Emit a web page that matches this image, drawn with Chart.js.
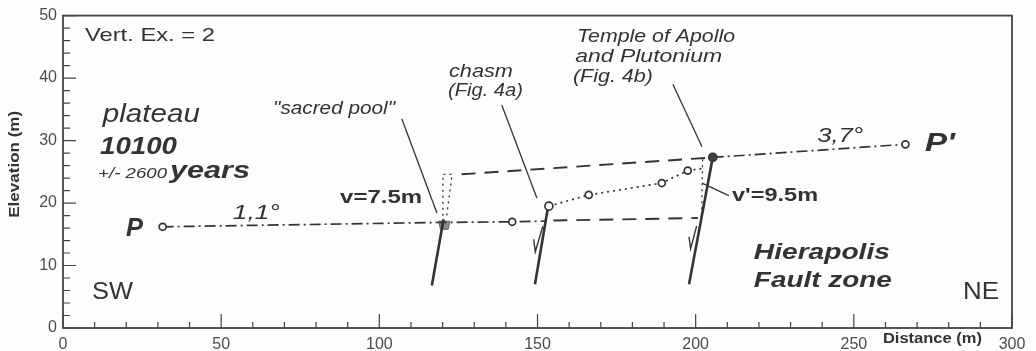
<!DOCTYPE html>
<html>
<head>
<meta charset="utf-8">
<script src="https://cdn.jsdelivr.net/npm/chart.js@4/dist/chart.umd.min.js"></script>
<style>
  html, body { margin: 0; padding: 0; background: #fdfdfd; }
  #wrap { width: 1036px; height: 351px; }
</style>
</head>
<body>
<div id="wrap"><canvas id="myChart" width="1036" height="351"></canvas></div>
<script>
// axis tick labels
const xTicks = [0, 50, 100, 150, 200, 250, 300];
const yTicks = [0, 10, 20, 30, 40, 50];

// plateau surface P -> sacred pool -> chasm (dash-dot, 1,1°)
const lowerX = [31.5, 120, 142, 153];
const lowerY = [16.2, 16.9, 17.0, 17.1];
// projected lower surface (dashed)
const lowerProjX = [155, 200.7];
const lowerProjY = [17.2, 17.6];
// projected upper surface (dashed)
const upperProjX = [126, 205.4];
const upperProjY = [24.6, 27.3];
// surface Temple -> P' (dash-dot, 3,7°)
const upperX = [205.4, 266.3];
const upperY = [27.3, 29.4];
// steps between chasm and temple (dotted)
const stepX = [153.6, 166.2, 189.3, 197.5, 203];
const stepY = [19.5, 21.3, 23.2, 25.2, 25.6];
// offset v at the sacred pool (dotted)
const offsetVX = [120.1, 120.1, 123, 121.3];
const offsetVY = [17.0, 24.6, 24.6, 18.0];
// offset v' at the temple (dotted)
const offsetV2X = [202.2, 201.9];
const offsetV2Y = [27.0, 17.8];
// faults
const fault1X = [116.6, 120.3], fault1Y = [6.8, 17.4];
const fault2X = [149.2, 153.3], fault2Y = [7.0, 19.3];
const fault3X = [197.9, 205.4], fault3Y = [7.0, 27.3];
// slip arrows
const slip2X = [151.7, 149.3, 148.8], slip2Y = [16.3, 12.2, 14.2];
const slip3X = [200.3, 198.4, 197.9], slip3Y = [16.3, 12.7, 14.6];
// sacred pool basin
const poolX = [118.8, 122.3, 121.8, 119.3, 118.8];
const poolY = [17.1, 17.1, 15.8, 15.8, 17.1];
// leader lines
const leadPoolX = [107.1, 118.2], leadPoolY = [33.5, 18.4];
const leadChasmX = [138.7, 149.8], leadChasmY = [35.7, 20.8];
const leadTempleX = [192.8, 202], leadTempleY = [39.0, 29.0];
const leadV2X = [202, 210.5], leadV2Y = [23.2, 21.2];

const ink = '#333';
const F = '"Liberation Sans", Arial, sans-serif';

// text annotations (x,y = left baseline in data units, w = target width px)
const labels = [
  { t: 'Vert. Ex. = 2', x: 6.95, y: 46.0, f: '19px', w: 130 },
  { t: 'plateau', x: 12.6, y: 33.0, f: 'italic 25px', w: 97 },
  { t: '10100', x: 11.7, y: 27.8, f: 'bold italic 24px', w: 77 },
  { t: '+/- 2600', x: 11.1, y: 24.0, f: 'italic 14px', w: 69 },
  { t: 'years', x: 33.8, y: 24.0, f: 'bold italic 24px', w: 80 },
  { t: 'P', x: 19.9, y: 14.8, f: 'bold italic 25px', w: 17 },
  { t: '1,1°', x: 53.7, y: 17.5, f: 'italic 20px', w: 47 },
  { t: 'SW', x: 9.2, y: 4.6, f: '23px', w: 41 },
  { t: '"sacred pool"', x: 66.4, y: 34.3, f: 'italic 18px', w: 122 },
  { t: 'v=7.5m', x: 87.6, y: 20.0, f: 'bold 19px', w: 82 },
  { t: 'chasm', x: 122.0, y: 40.2, f: 'italic 18px', w: 64 },
  { t: '(Fig. 4a)', x: 121.7, y: 37.1, f: 'italic 18px', w: 75 },
  { t: 'Temple of Apollo', x: 162.5, y: 45.7, f: 'italic 18px', w: 158 },
  { t: 'and Plutonium', x: 161.9, y: 42.5, f: 'italic 18px', w: 147 },
  { t: '(Fig. 4b)', x: 161.2, y: 39.4, f: 'italic 18px', w: 80 },
  { t: '3,7°', x: 238.4, y: 29.8, f: 'italic 20px', w: 46 },
  { t: "P'", x: 272.5, y: 28.3, f: 'bold italic 25px', w: 30 },
  { t: "v'=9.5m", x: 211.5, y: 20.3, f: 'bold 19px', w: 86 },
  { t: 'Hierapolis', x: 218.4, y: 11.1, f: 'bold italic 22px', w: 136 },
  { t: 'Fault zone', x: 218.4, y: 6.5, f: 'bold italic 22px', w: 138 },
  { t: 'NE', x: 284.5, y: 4.6, f: '23px', w: 36 },
  { t: 'Distance (m)', x: 259.2, y: -2.4, f: 'bold 14px', w: 99 }
];

function pts(xs, ys) {
  return xs.map((x, i) => ({ x: x, y: ys[i] }));
}

function line(xs, ys, opts) {
  return Object.assign({
    data: pts(xs, ys),
    showLine: true,
    borderColor: ink,
    borderWidth: 1.7,
    pointRadius: 0,
    pointBorderColor: ink,
    pointBackgroundColor: '#fdfdfd',
    pointBorderWidth: 1.7,
    fill: false
  }, opts || {});
}

const dashDot = [11, 4, 2, 4];
const dashed = [14, 9];
const dotted = [2, 4];

// draw ticks inward, frame and text
const decorPlugin = {
  id: 'decor',
  afterDraw(chart) {
    const { ctx, chartArea: a, scales: { x, y } } = chart;
    ctx.save();
    ctx.strokeStyle = '#444';
    ctx.lineWidth = 1.2;
    ctx.beginPath();
    for (let v = 0; v <= 300; v += 10) {
      const px = x.getPixelForValue(v);
      const len = v % 50 === 0 ? 14 : 6;
      ctx.moveTo(px, a.bottom);
      ctx.lineTo(px, a.bottom - len);
    }
    for (let v = 0; v <= 50; v += 2) {
      const py = y.getPixelForValue(v);
      const len = v % 10 === 0 ? 13 : 7;
      ctx.moveTo(a.left, py);
      ctx.lineTo(a.left + len, py);
    }
    ctx.stroke();
    ctx.lineWidth = 1.8;
    ctx.strokeRect(a.left, a.top, a.right - a.left, a.bottom - a.top);

    ctx.fillStyle = ink;
    ctx.textAlign = 'left';
    ctx.textBaseline = 'alphabetic';
    labels.forEach(L => {
      ctx.font = L.f + ' ' + F;
      const w = ctx.measureText(L.t).width;
      const px = x.getPixelForValue(L.x);
      const py = y.getPixelForValue(L.y);
      ctx.save();
      ctx.translate(px, py);
      ctx.scale(L.w / w, 1);
      ctx.fillText(L.t, 0, 0);
      ctx.restore();
    });

    // y axis title
    ctx.font = 'bold 14px ' + F;
    const tw = ctx.measureText('Elevation (m)').width;
    ctx.save();
    ctx.translate(a.left - 48, y.getPixelForValue(26.2));
    ctx.rotate(-Math.PI / 2);
    ctx.scale(107 / tw, 1);
    ctx.textAlign = 'center';
    ctx.textBaseline = 'middle';
    ctx.fillText('Elevation (m)', 0, 0);
    ctx.restore();
    ctx.restore();
  }
};

const ctx = document.getElementById('myChart');
new Chart(ctx, {
  type: 'scatter',
  data: {
    datasets: [
      line(lowerX, lowerY, { borderDash: dashDot, pointRadius: [3.5, 0, 3.5, 0] }),
      line(upperX, upperY, { borderDash: dashDot, pointRadius: [4, 3.5],
        pointBackgroundColor: ['#444', '#fdfdfd'] }),
      line(stepX, stepY, { borderDash: dotted, pointRadius: [4, 3.5, 3.5, 3.5, 0] }),
      line(lowerProjX, lowerProjY, { borderDash: dashed, borderWidth: 1.9 }),
      line(upperProjX, upperProjY, { borderDash: dashed, borderWidth: 1.9 }),
      line(offsetVX, offsetVY, { borderDash: dotted, borderWidth: 1.3 }),
      line(offsetV2X, offsetV2Y, { borderDash: dotted, borderWidth: 1.3 }),
      line(fault1X, fault1Y, { borderWidth: 2.6 }),
      line(fault2X, fault2Y, { borderWidth: 2.6 }),
      line(fault3X, fault3Y, { borderWidth: 2.6 }),
      line(slip2X, slip2Y, { borderWidth: 1.4 }),
      line(slip3X, slip3Y, { borderWidth: 1.4 }),
      line(leadPoolX, leadPoolY, { borderWidth: 1.3 }),
      line(leadChasmX, leadChasmY, { borderWidth: 1.3 }),
      line(leadTempleX, leadTempleY, { borderWidth: 1.3 }),
      line(leadV2X, leadV2Y, { borderWidth: 1.3 }),
      line(poolX, poolY, { borderWidth: 1, borderColor: '#666', fill: 'shape',
        backgroundColor: '#8c8c8c' })
    ]
  },
  options: {
    responsive: false,
    animation: false,
    layout: { padding: { top: 13, right: 24, left: 0, bottom: 0 } },
    plugins: {
      legend: { display: false },
      tooltip: { enabled: false }
    },
    scales: {
      x: {
        type: 'linear',
        min: 0,
        max: 300,
        afterBuildTicks: s => { s.ticks = xTicks.map(v => ({ value: v })); },
        afterFit: s => { s.height = 23; },
        grid: { display: false, drawTicks: false },
        border: { display: false },
        ticks: { color: '#4d4d4d', padding: 7, maxRotation: 0,
          font: { family: F, size: 16 } }
      },
      y: {
        min: 0,
        max: 50,
        afterBuildTicks: s => { s.ticks = yTicks.map(v => ({ value: v })); },
        afterFit: s => { s.width = 63; },
        grid: { display: false, drawTicks: false },
        border: { display: false },
        ticks: { color: '#4d4d4d', padding: 6, font: { family: F, size: 16 } }
      }
    }
  },
  plugins: [decorPlugin]
});
</script>
</body>
</html>
